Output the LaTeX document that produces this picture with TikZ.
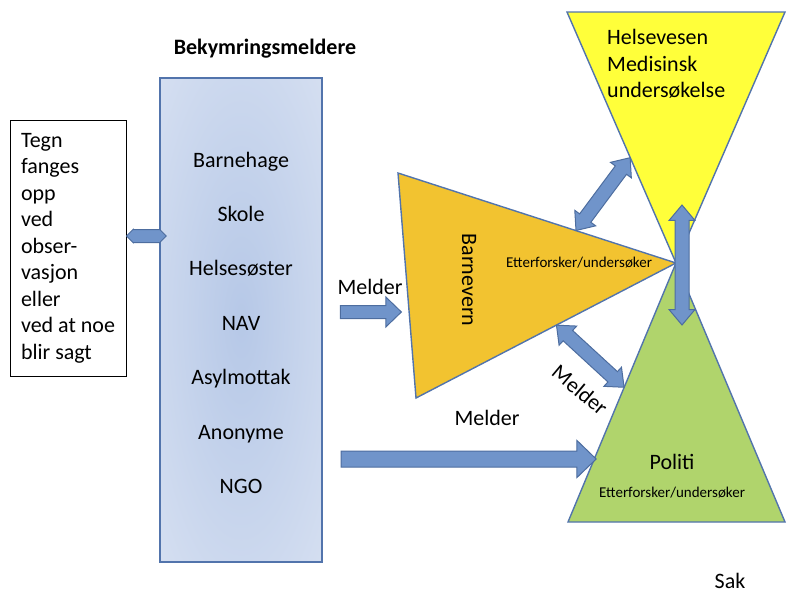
\documentclass[tikz,border=0pt]{standalone}
\usepackage{fontspec}
\setmainfont{Carlito}
\usetikzlibrary{arrows.meta,positioning,calc,shapes.arrows}
\definecolor{kant}{HTML}{5274AC}
\definecolor{pil}{HTML}{7094CA}
\definecolor{pilkant}{HTML}{4D6D9F}
\definecolor{gull}{HTML}{F2C330}
\definecolor{gul}{HTML}{FFFF3A}
\definecolor{gronn}{HTML}{B0D46C}
\definecolor{lysbla}{HTML}{E8EDF7}
\definecolor{midtbla}{HTML}{B6C8E7}
\pgfdeclareradialshading{meldskygge}{\pgfpoint{0bp}{0bp}}{color(0bp)=(midtbla); color(58bp)=(lysbla); color(75bp)=(lysbla)}
\tikzset{txt/.style={inner sep=0pt,font=\fontsize{22}{26.5}\selectfont},liten/.style={inner sep=0pt,font=\fontsize{15}{18}\selectfont},obsbox/.style={draw=black,line width=1pt,txt,align=left,minimum width=116,minimum height=256},meldbox/.style={draw=kant,line width=1.5pt,shading=meldskygge,minimum width=162,minimum height=484},tri/.style={draw=kant,line width=1.4pt},pil1/.style={single arrow,draw=pilkant,fill=pil,line width=1pt,inner xsep=0pt,inner ysep=6pt,single arrow head extend=8.5,single arrow tip angle=88},pil2/.style={pil1,inner ysep=7.5pt,single arrow head extend=10.5},dpil/.style={double arrow,draw=pilkant,fill=pil,line width=1pt,inner xsep=0pt,inner ysep=6.5pt,double arrow head extend=6,double arrow tip angle=80},hex/.style={dpil,inner ysep=6pt,double arrow head extend=0.1,double arrow tip angle=90}}
\newcommand\blokkpil[3]{\path let \p1=(#2),\p2=(#3),\n1={atan2(\y2-\y1,\x2-\x1)},\n2={veclen(\x2-\x1,\y2-\y1)} in node[#1,minimum height=\n2,rotate=\n1] at ($(#2)!.5!(#3)$) {};}

\begin{document}
\begin{tikzpicture}[x=1pt,y=-1pt]
\useasboundingbox (0,0) rectangle (787,592);
\node[obsbox] (obs) at (68,248) {Tegn\\fanges\\opp\\ved\\obser-\\vasjon\\eller\\ved at noe\\blir sagt};
\node[meldbox] (m) at (241,320) {};
\node[txt,font=\fontsize{22}{26.5}\selectfont\bfseries,anchor=base] (tit) at (265,54) {Bekymringsmeldere};
\node[txt,anchor=base] (m1) at (241,167) {Barnehage};
\node[txt,anchor=base] (m2) at (241,221) {Skole};
\node[txt,anchor=base] (m3) at (241,275) {Helsesøster};
\node[txt,anchor=base] (m4) at (241,330) {NAV};
\node[txt,anchor=base] (m5) at (241,384) {Asylmottak};
\node[txt,anchor=base] (m6) at (241,439) {Anonyme};
\node[txt,anchor=base] (m7) at (241,493) {NGO};
\coordinate (midt) at (676,263);
\coordinate (bv1) at (398,173); \coordinate (bv2) at (416,398);
\coordinate (hv1) at (567,12); \coordinate (hv2) at (785,12);
\coordinate (po1) at (568,522); \coordinate (po2) at (785,522);
\draw[tri,fill=gul] (hv1)--(hv2)--(midt)--cycle;
\draw[tri,fill=gronn] (midt)--(po2)--(po1)--cycle;
\draw[tri,fill=gull] (bv1)--(midt)--(bv2)--cycle;
\coordinate (h1) at ([yshift=12pt]obs.east);
\coordinate (h2) at ([xshift=7pt]h1 -| m.west);
\coordinate (p1) at (337,312); \coordinate (p2) at (398,312);
\coordinate (q1) at (337,459); \coordinate (q2) at (592,459);
\coordinate (a1) at ($(bv1)!.64!(midt)$); \coordinate (a2) at ($(hv1)!.58!(midt)$);
\coordinate (c1) at ($(bv2)!.54!(midt)$); \coordinate (c2) at ($(midt)!.48!(po1)$);
\coordinate (v1) at (682,205); \coordinate (v2) at (682,325);
\blokkpil{hex}{h1}{h2}
\blokkpil{pil1}{p1}{p2}
\blokkpil{pil2}{q1}{q2}
\blokkpil{dpil}{a1}{a2}
\blokkpil{dpil}{c1}{c2}
\blokkpil{dpil}{v1}{v2}
\node[txt,anchor=base] (mel1) at (370,294) {Melder};
\node[txt,anchor=base] (mel2) at (487,425) {Melder};
\node[txt,rotate=-40] (mel3) at (580,390) {Melder};
\node[txt,rotate=-90] (bv) at (469,280) {Barnevern};
\node[liten,anchor=base] (bvet) at (579,267) {Etterforsker/undersøker};
\node[txt,align=left,anchor=north west] (hv) at (607,29.5) {Helsevesen\\Medisinsk\\undersøkelse};
\node[txt,anchor=base] (po) at (672,469) {Politi};
\node[liten,anchor=base] (poet) at (672,497) {Etterforsker/undersøker};
\node[txt,anchor=base] (sak) at (730,588) {Sak};
\end{tikzpicture}
\end{document}
